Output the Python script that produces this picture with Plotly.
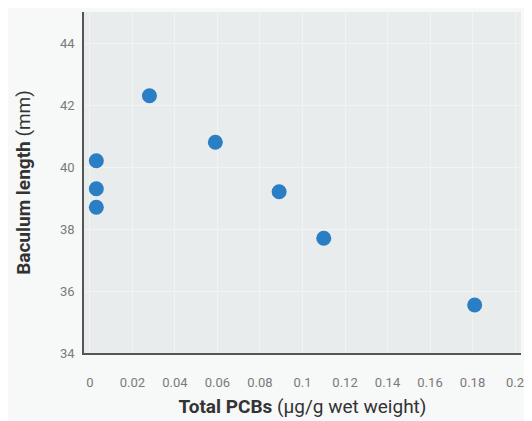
import plotly.graph_objects as go

pcb = [0.003, 0.003, 0.003, 0.028, 0.059, 0.089, 0.110, 0.181]
baculum = [40.2, 39.3, 38.7, 42.3, 40.8, 39.2, 37.7, 35.55]

x_ticks = [0, 0.02, 0.04, 0.06, 0.08, 0.1, 0.12, 0.14, 0.16, 0.18, 0.2]
x_labels = ["0", "0.02", "0.04", "0.06", "0.08", "0.1", "0.12", "0.14", "0.16", "0.18", "0.2"]
y_ticks = [34, 36, 38, 40, 42, 44]
y_labels = ["34", "36", "38", "40", "42", "44"]

FONT = "Roboto, sans-serif"

fig = go.Figure(go.Scatter(
    x=pcb, y=baculum, mode="markers",
    marker=dict(size=15, color="#2a7ec3", line=dict(width=0)),
    showlegend=False,
))

fig.update_layout(
    width=524, height=413,
    margin=dict(l=76, r=11, t=4, b=68),
    paper_bgcolor="#f7f8f8",
    plot_bgcolor="#e9ecec",
    font=dict(family=FONT, color="#777777", size=13),
    xaxis=dict(
        range=[-0.0028, 0.2028],
        tickvals=x_ticks, ticktext=x_labels,
        showgrid=True, gridcolor="#f2f4f4", gridwidth=1,
        zeroline=False,
        showline=True, linecolor="#555555", linewidth=1.5,
        ticks="", ticklen=0,
        ticklabelstandoff=17,
        tickfont=dict(size=13, color="#7a7a7a"),
        title=dict(
            text="<b>Total PCBs</b> (µg/g wet weight)",
            font=dict(size=19, color="#333333", family=FONT),
            standoff=10,
        ),
    ),
    yaxis=dict(
        range=[34, 45],
        tickvals=y_ticks, ticktext=y_labels,
        showgrid=True, gridcolor="#f2f4f4", gridwidth=1,
        zeroline=False,
        showline=True, linecolor="#555555", linewidth=1.5,
        ticks="", ticklen=0,
        ticklabelstandoff=5,
        tickfont=dict(size=13, color="#7a7a7a"),
        title=dict(
            text="<b>Baculum length</b> (mm)",
            font=dict(size=19, color="#333333", family=FONT),
            standoff=24,
        ),
    ),
)

fig.write_html("out.html")
